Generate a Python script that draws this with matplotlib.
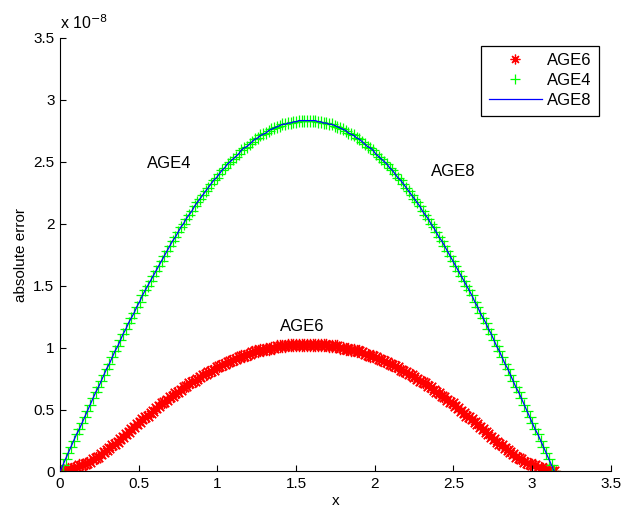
#!/usr/bin/env python3
"""Absoluter Fehler der AGE-Verfahren ueber x (Nachbau eines MATLAB-Plots)."""

import numpy as np
import matplotlib
matplotlib.use("Agg")
import matplotlib.pyplot as plt
from matplotlib.ticker import FuncFormatter

# ----------------------------------------------------------------------
# DATEN (Werte in Einheiten von 1e-8, Gitter 0..pi in 1-Grad-Schritten)
# ----------------------------------------------------------------------
SKALA = 1e-8

age6 = [
    0.00, 0.00, 0.01, 0.02, 0.02, 0.03, 0.04, 0.05, 0.05, 0.06,
    0.07, 0.08, 0.10, 0.11, 0.12, 0.14, 0.16, 0.17, 0.19, 0.21,
    0.22, 0.24, 0.26, 0.28, 0.30, 0.32, 0.34, 0.36, 0.38, 0.40,
    0.42, 0.44, 0.45, 0.47, 0.49, 0.51, 0.53, 0.55, 0.56, 0.58,
    0.60, 0.61, 0.63, 0.64, 0.66, 0.68, 0.69, 0.71, 0.72, 0.73,
    0.75, 0.76, 0.78, 0.79, 0.80, 0.81, 0.82, 0.84, 0.85, 0.86,
    0.87, 0.88, 0.89, 0.90, 0.91, 0.92, 0.93, 0.93, 0.94, 0.95,
    0.96, 0.97, 0.97, 0.98, 0.98, 0.99, 0.99, 1.00, 1.00, 1.01,
    1.01, 1.01, 1.01, 1.02, 1.02, 1.02, 1.02, 1.02, 1.02, 1.02,
    1.02,
    1.02, 1.02, 1.02, 1.02, 1.02, 1.02, 1.02, 1.01, 1.01, 1.01,
    1.01, 1.00, 1.00, 0.99, 0.99, 0.98, 0.98, 0.97, 0.97, 0.96,
    0.95, 0.94, 0.93, 0.93, 0.92, 0.91, 0.90, 0.89, 0.88, 0.87,
    0.86, 0.85, 0.84, 0.82, 0.81, 0.80, 0.79, 0.78, 0.76, 0.75,
    0.73, 0.72, 0.71, 0.69, 0.68, 0.66, 0.64, 0.63, 0.61, 0.60,
    0.58, 0.56, 0.55, 0.53, 0.51, 0.49, 0.47, 0.45, 0.44, 0.42,
    0.40, 0.38, 0.36, 0.34, 0.32, 0.30, 0.28, 0.26, 0.24, 0.22,
    0.21, 0.19, 0.17, 0.16, 0.14, 0.12, 0.11, 0.10, 0.08, 0.07,
    0.06, 0.05, 0.05, 0.04, 0.03, 0.02, 0.02, 0.01, 0.00, 0.00,
]

age4 = [
    0.00, 0.05, 0.10, 0.15, 0.20, 0.25, 0.30, 0.34, 0.39, 0.44,
    0.49, 0.54, 0.59, 0.64, 0.68, 0.73, 0.78, 0.83, 0.87, 0.92,
    0.97, 1.01, 1.06, 1.11, 1.15, 1.20, 1.24, 1.28, 1.33, 1.37,
    1.42, 1.46, 1.50, 1.54, 1.58, 1.62, 1.66, 1.70, 1.74, 1.78,
    1.82, 1.86, 1.89, 1.93, 1.97, 2.00, 2.04, 2.07, 2.10, 2.14,
    2.17, 2.20, 2.23, 2.26, 2.29, 2.32, 2.35, 2.37, 2.40, 2.43,
    2.45, 2.48, 2.50, 2.52, 2.54, 2.56, 2.59, 2.61, 2.62, 2.64,
    2.66, 2.68, 2.69, 2.71, 2.72, 2.73, 2.75, 2.76, 2.77, 2.78,
    2.79, 2.80, 2.80, 2.81, 2.81, 2.82, 2.82, 2.83, 2.83, 2.83,
    2.83,
    2.83, 2.83, 2.83, 2.82, 2.82, 2.81, 2.81, 2.80, 2.80, 2.79,
    2.78, 2.77, 2.76, 2.75, 2.73, 2.72, 2.71, 2.69, 2.68, 2.66,
    2.64, 2.62, 2.61, 2.59, 2.56, 2.54, 2.52, 2.50, 2.48, 2.45,
    2.43, 2.40, 2.37, 2.35, 2.32, 2.29, 2.26, 2.23, 2.20, 2.17,
    2.14, 2.10, 2.07, 2.04, 2.00, 1.97, 1.93, 1.89, 1.86, 1.82,
    1.78, 1.74, 1.70, 1.66, 1.62, 1.58, 1.54, 1.50, 1.46, 1.42,
    1.37, 1.33, 1.28, 1.24, 1.20, 1.15, 1.11, 1.06, 1.01, 0.97,
    0.92, 0.87, 0.83, 0.78, 0.73, 0.68, 0.64, 0.59, 0.54, 0.49,
    0.44, 0.39, 0.34, 0.30, 0.25, 0.20, 0.15, 0.10, 0.05, 0.00,
]

age8 = [
    0.00, 0.05, 0.10, 0.15, 0.20, 0.25, 0.30, 0.34, 0.39, 0.44,
    0.49, 0.54, 0.59, 0.64, 0.68, 0.73, 0.78, 0.83, 0.87, 0.92,
    0.97, 1.01, 1.06, 1.11, 1.15, 1.20, 1.24, 1.28, 1.33, 1.37,
    1.42, 1.46, 1.50, 1.54, 1.58, 1.62, 1.66, 1.70, 1.74, 1.78,
    1.82, 1.86, 1.89, 1.93, 1.97, 2.00, 2.04, 2.07, 2.10, 2.14,
    2.17, 2.20, 2.23, 2.26, 2.29, 2.32, 2.35, 2.37, 2.40, 2.43,
    2.45, 2.48, 2.50, 2.52, 2.54, 2.56, 2.59, 2.61, 2.62, 2.64,
    2.66, 2.68, 2.69, 2.71, 2.72, 2.73, 2.75, 2.76, 2.77, 2.78,
    2.79, 2.80, 2.80, 2.81, 2.81, 2.82, 2.82, 2.83, 2.83, 2.83,
    2.83,
    2.83, 2.83, 2.83, 2.82, 2.82, 2.81, 2.81, 2.80, 2.80, 2.79,
    2.78, 2.77, 2.76, 2.75, 2.73, 2.72, 2.71, 2.69, 2.68, 2.66,
    2.64, 2.62, 2.61, 2.59, 2.56, 2.54, 2.52, 2.50, 2.48, 2.45,
    2.43, 2.40, 2.37, 2.35, 2.32, 2.29, 2.26, 2.23, 2.20, 2.17,
    2.14, 2.10, 2.07, 2.04, 2.00, 1.97, 1.93, 1.89, 1.86, 1.82,
    1.78, 1.74, 1.70, 1.66, 1.62, 1.58, 1.54, 1.50, 1.46, 1.42,
    1.37, 1.33, 1.28, 1.24, 1.20, 1.15, 1.11, 1.06, 1.01, 0.97,
    0.92, 0.87, 0.83, 0.78, 0.73, 0.68, 0.64, 0.59, 0.54, 0.49,
    0.44, 0.39, 0.34, 0.30, 0.25, 0.20, 0.15, 0.10, 0.05, 0.00,
]

x = np.linspace(0, np.pi, len(age4))

# Beschriftungen im Plot (Position in Datenkoordinaten, y in 1e-8)
marken_text = ["AGE4", "AGE8", "AGE6"]
marken_x = [0.55, 2.36, 1.40]
marken_y = [2.48, 2.42, 1.17]

ticks = [0, 0.5, 1, 1.5, 2, 2.5, 3, 3.5]

# ----------------------------------------------------------------------
# PLOT
# ----------------------------------------------------------------------
plt.rcParams.update({
    "font.family": ["Liberation Sans", "DejaVu Sans"],
    "font.size": 11,
})

fig = plt.figure(figsize=(6.22, 5.11), dpi=100)
ax = fig.add_axes([0.0965, 0.0773, 0.8854, 0.8493])

y6 = np.array(age6) * SKALA
y4 = np.array(age4) * SKALA
y8 = np.array(age8) * SKALA

ax.plot(x, y6, linestyle="none", marker=(8, 2, 0), color="red",
        markersize=9.5, mew=0.9, label="AGE6", zorder=1)
ax.plot(x, y4, linestyle="none", marker="+", color="#00ff00",
        markersize=8.5, mew=0.9, label="AGE4", zorder=2)
ax.plot(x, y8, "-", color="blue", lw=0.9, label="AGE8", zorder=3)

for txt, tx, ty in zip(marken_text, marken_x, marken_y):
    ax.text(tx, ty * SKALA, txt, ha="left", va="center", fontsize=12)

ax.set_xlim(0, 3.5)
ax.set_ylim(0, 3.5 * SKALA)
ax.set_xticks(ticks)
ax.set_yticks([t * SKALA for t in ticks])
ax.xaxis.set_major_formatter(FuncFormatter(lambda v, p: f"{v:g}"))
ax.yaxis.set_major_formatter(FuncFormatter(lambda v, p: f"{v / SKALA:g}"))
ax.tick_params(direction="in", length=4, width=0.8, pad=4)

for s in ["top", "right"]:
    ax.spines[s].set_visible(False)
for s in ["left", "bottom"]:
    ax.spines[s].set_linewidth(0.8)

ax.set_xlabel("x", labelpad=2)
ax.set_ylabel("absolute error", labelpad=4)

fig.text(60 / 622, 1 - 29 / 511, r"x 10$^{-8}$", ha="left", va="baseline",
         fontsize=11.5)

leg = ax.legend(loc="upper right", bbox_to_anchor=(599 / 622, 1 - 45.7 / 511),
                bbox_transform=fig.transFigure, borderaxespad=0,
                fancybox=False, framealpha=1.0, edgecolor="black",
                fontsize=12, handlelength=3.2, handletextpad=0.3,
                labelspacing=0.3, borderpad=0.45)
leg.get_frame().set_linewidth(0.9)
for h in leg.legend_handles[:2]:
    h.set_markersize(7)

fig.savefig("out.png", dpi=100)
